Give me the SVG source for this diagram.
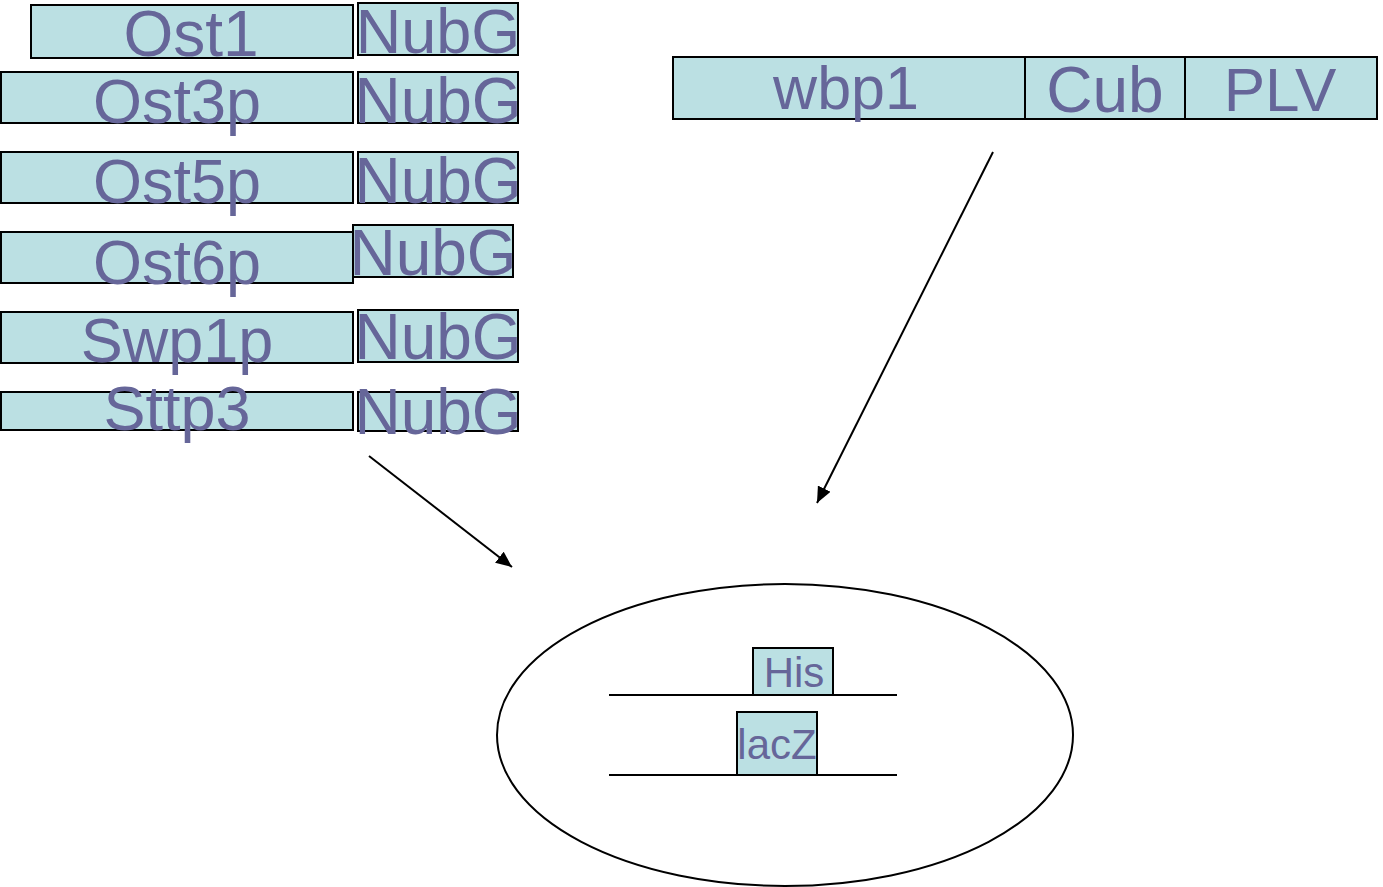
<svg xmlns="http://www.w3.org/2000/svg" width="1383" height="887" viewBox="0 0 1383 887">
  <style>
    .box { fill: #BBE0E3; stroke: #000; stroke-width: 2; }
    .lbl { font-family: "Liberation Sans", Arial, sans-serif; fill: #666699; text-anchor: middle; }
    .big { font-size: 63px; }
    .nub { font-size: 64px; }
    .small { font-size: 42px; }
    .wire { stroke: #000; stroke-width: 2; fill: none; }
  </style>
  <defs>
    <marker id="arrow" markerUnits="userSpaceOnUse" markerWidth="18" markerHeight="14" refX="16" refY="7" orient="auto">
      <path d="M0,0 L16,7 L0,14 z" fill="#000"/>
    </marker>
  </defs>
  <rect width="1383" height="887" fill="#fff"/>

  <!-- bait fusions: protein + NubG -->
  <g id="ost1">
    <rect class="box" x="31" y="5" width="322" height="53"/>
    <text class="lbl" font-size="64" x="191" y="56">Ost1</text>
  </g>
  <g id="nubg1">
    <rect class="box" x="358" y="3" width="160" height="52"/>
    <text class="lbl" font-size="63" x="438" y="53">NubG</text>
  </g>

  <g id="ost3p">
    <rect class="box" x="1" y="72" width="352" height="51"/>
    <text class="lbl big" x="177" y="123">Ost3p</text>
  </g>
  <g id="nubg2">
    <rect class="box" x="358" y="72" width="160" height="51"/>
    <text class="lbl nub" x="438" y="123">NubG</text>
  </g>

  <g id="ost5p">
    <rect class="box" x="1" y="152" width="352" height="51"/>
    <text class="lbl big" x="177" y="203">Ost5p</text>
  </g>
  <g id="nubg3">
    <rect class="box" x="358" y="152" width="160" height="51"/>
    <text class="lbl nub" x="438" y="203">NubG</text>
  </g>

  <g id="ost6p">
    <rect class="box" x="1" y="232" width="352" height="51"/>
    <text class="lbl big" x="177" y="284">Ost6p</text>
  </g>
  <g id="nubg4">
    <rect class="box" x="353" y="225" width="160" height="52"/>
    <text class="lbl nub" x="433" y="275">NubG</text>
  </g>

  <g id="swp1p">
    <rect class="box" x="1" y="312" width="352" height="51"/>
    <text class="lbl big" x="177" y="362">Swp1p</text>
  </g>
  <g id="nubg5">
    <rect class="box" x="358" y="310" width="160" height="52"/>
    <text class="lbl nub" x="438" y="359">NubG</text>
  </g>

  <g id="sttp3">
    <rect class="box" x="1" y="392" width="352" height="38"/>
    <text class="lbl big" x="177" y="430">Sttp3</text>
  </g>
  <g id="nubg6">
    <rect class="box" x="358" y="392" width="160" height="39"/>
    <text class="lbl nub" x="438" y="434">NubG</text>
  </g>

  <!-- prey fusion: wbp1-Cub-PLV -->
  <g id="wbp1">
    <rect class="box" x="673" y="57" width="352" height="62"/>
    <text class="lbl" font-size="61" x="846" y="109">wbp1</text>
  </g>
  <g id="cub">
    <rect class="box" x="1025" y="57" width="160" height="62"/>
    <text class="lbl" font-size="64" x="1105" y="112">Cub</text>
  </g>
  <g id="plv">
    <rect class="box" x="1185" y="57" width="192" height="62"/>
    <text class="lbl" font-size="62" x="1280" y="111">PLV</text>
  </g>

  <!-- reporter cell -->
  <g id="cell">
    <ellipse cx="785" cy="735" rx="288" ry="151" fill="none" stroke="#000" stroke-width="2"/>
    <line class="wire" x1="609" y1="695" x2="897" y2="695"/>
    <line class="wire" x1="609" y1="775" x2="897" y2="775"/>
  </g>
  <g id="his">
    <rect class="box" x="753" y="648" width="80" height="47"/>
    <text class="lbl small" x="794" y="687">His</text>
  </g>
  <g id="lacz">
    <rect class="box" x="737" y="712" width="80" height="63"/>
    <text class="lbl small" x="777" y="759">lacZ</text>
  </g>

  <!-- connectors -->
  <g id="connectors">
    <line class="wire" x1="369" y1="456" x2="512" y2="567" marker-end="url(#arrow)"/>
    <line class="wire" x1="993" y1="152" x2="817" y2="503" marker-end="url(#arrow)"/>
  </g>
</svg>
